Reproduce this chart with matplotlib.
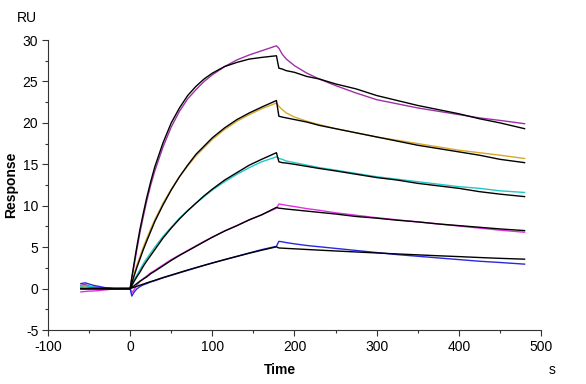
import matplotlib.pyplot as plt

# time points (s)
t_base = [-60, -55, -50, -45, -40, -30, -20, -10, 0]
t_assoc = [2, 5, 8, 12, 16, 20, 25, 30, 40, 50, 60, 70, 80, 90, 100, 115, 130, 145, 160, 178]
t_dissoc = [181, 185, 190, 200, 215, 230, 250, 275, 300, 325, 350, 375, 400, 425, 450, 480]

# measured curves (RU)
purple_base = [0.4, 0.5, 0.3, 0.2, 0.15, 0.05, 0.0, 0.0, 0.0]
purple_assoc = [1.2, 2.9, 4.6, 6.8, 8.7, 10.5, 12.5, 14.2, 17.1, 19.5, 21.4, 22.9, 24.0, 25.0,
                25.8, 26.8, 27.6, 28.2, 28.7, 29.3]
purple_dissoc = [29.0, 28.3, 27.7, 26.9, 26.0, 25.3, 24.5, 23.6, 22.8, 22.3, 21.8, 21.4, 21.0,
                 20.6, 20.3, 19.9]

gold_base = [0.2, 0.3, 0.2, 0.1, 0.1, 0.05, 0.0, 0.0, 0.0]
gold_assoc = [0.8, 1.8, 2.8, 3.9, 5.0, 6.0, 7.2, 8.3, 10.3, 12.0, 13.5, 14.8, 16.0, 17.0,
              18.0, 19.2, 20.2, 21.0, 21.7, 22.4]
gold_dissoc = [22.0, 21.6, 21.2, 20.7, 20.2, 19.8, 19.3, 18.8, 18.3, 17.9, 17.5, 17.1, 16.7,
               16.4, 16.1, 15.7]

cyan_base = [0.3, 0.35, 0.25, 0.2, 0.1, 0.05, 0.0, 0.0, 0.0]
cyan_assoc = [0.45, 1.1, 1.6, 2.3, 3.0, 3.6, 4.3, 5.0, 6.3, 7.4, 8.5, 9.4, 10.3, 11.1,
              11.9, 12.9, 13.8, 14.6, 15.3, 15.9]
cyan_dissoc = [15.7, 15.6, 15.4, 15.2, 14.9, 14.6, 14.3, 13.9, 13.5, 13.2, 12.9, 12.6, 12.3,
               12.1, 11.8, 11.6]

magenta_base = [-0.4, -0.35, -0.3, -0.3, -0.25, -0.15, -0.05, 0.0, 0.0]
magenta_assoc = [-0.5, -0.1, 0.4, 0.85, 1.2, 1.5, 1.9, 2.2, 2.85, 3.5, 4.05, 4.6, 5.15, 5.7,
                 6.2, 6.95, 7.6, 8.3, 8.9, 9.7]
magenta_dissoc = [10.2, 10.15, 10.05, 9.9, 9.65, 9.45, 9.15, 8.85, 8.55, 8.3, 8.05, 7.8, 7.55,
                  7.3, 7.05, 6.8]

blue_base = [0.6, 0.7, 0.55, 0.4, 0.3, 0.1, 0.0, 0.0, 0.0]
blue_assoc = [-0.9, -0.4, -0.05, 0.25, 0.45, 0.6, 0.8, 0.95, 1.3, 1.6, 1.9, 2.2, 2.5, 2.8,
              3.1, 3.5, 3.9, 4.3, 4.7, 5.1]
blue_dissoc = [5.7, 5.65, 5.55, 5.4, 5.2, 5.05, 4.85, 4.6, 4.35, 4.1, 3.9, 3.7, 3.5, 3.3,
               3.15, 2.95]

# fitted curves (RU)
fit_base = [0.0, 0.0, 0.0, 0.0, 0.0, 0.0, 0.0, 0.0, 0.0]
fit1_assoc = [1.35, 3.2, 5.0, 7.2, 9.1, 10.9, 12.9, 14.7, 17.6, 20.0, 21.8, 23.3, 24.4, 25.3,
              26.0, 26.8, 27.3, 27.7, 27.9, 28.1]
fit1_dissoc = [26.6, 26.5, 26.3, 26.1, 25.6, 25.3, 24.7, 24.1, 23.3, 22.7, 22.1, 21.6, 21.1,
               20.5, 20.0, 19.3]
fit2_assoc = [0.65, 1.6, 2.5, 3.6, 4.7, 5.7, 6.9, 8.1, 10.1, 11.9, 13.5, 14.9, 16.2, 17.2,
              18.2, 19.4, 20.4, 21.2, 21.9, 22.7]
fit2_dissoc = [20.8, 20.7, 20.6, 20.4, 20.1, 19.7, 19.3, 18.8, 18.3, 17.8, 17.3, 16.9, 16.5,
               16.1, 15.6, 15.2]
fit3_assoc = [0.35, 0.9, 1.4, 2.0, 2.7, 3.3, 4.0, 4.7, 6.1, 7.3, 8.4, 9.4, 10.3, 11.2,
              12.0, 13.1, 14.0, 14.9, 15.6, 16.4]
fit3_dissoc = [15.3, 15.2, 15.15, 15.0, 14.75, 14.5, 14.2, 13.8, 13.4, 13.1, 12.7, 12.4, 12.1,
               11.7, 11.4, 11.1]
fit4_assoc = [0.15, 0.35, 0.6, 0.9, 1.15, 1.4, 1.8, 2.1, 2.75, 3.4, 4.0, 4.55, 5.1, 5.65,
              6.2, 6.95, 7.6, 8.3, 8.9, 9.8]
fit4_dissoc = [9.7, 9.66, 9.6, 9.5, 9.35, 9.2, 9.0, 8.7, 8.5, 8.25, 8.05, 7.8, 7.6, 7.4,
               7.2, 7.0]
fit5_assoc = [0.07, 0.17, 0.27, 0.41, 0.54, 0.68, 0.84, 1.0, 1.33, 1.63, 1.94, 2.24, 2.53,
              2.81, 3.08, 3.49, 3.88, 4.27, 4.63, 5.04]
fit5_dissoc = [4.9, 4.88, 4.85, 4.8, 4.72, 4.64, 4.54, 4.42, 4.3, 4.18, 4.07, 3.96, 3.86,
               3.75, 3.65, 3.55]

measured = [
    (purple_base, purple_assoc, purple_dissoc, '#a030a8'),
    (gold_base, gold_assoc, gold_dissoc, '#d8a828'),
    (cyan_base, cyan_assoc, cyan_dissoc, '#20c8c8'),
    (magenta_base, magenta_assoc, magenta_dissoc, '#e030e0'),
    (blue_base, blue_assoc, blue_dissoc, '#2828e0'),
]
fits = [
    (fit1_assoc, fit1_dissoc),
    (fit2_assoc, fit2_dissoc),
    (fit3_assoc, fit3_dissoc),
    (fit4_assoc, fit4_dissoc),
    (fit5_assoc, fit5_dissoc),
]

plt.rcParams['font.family'] = ['Liberation Sans', 'DejaVu Sans']
plt.rcParams['axes.unicode_minus'] = False

fig = plt.figure(figsize=(5.86, 3.84), dpi=100)
ax = fig.add_axes([0.0819, 0.1406, 0.8413, 0.7552])

t_all = t_base + t_assoc + t_dissoc
for base, assoc, dissoc, color in measured:
    ax.plot(t_all, base + assoc + dissoc, color=color, lw=1.0)
for assoc, dissoc in fits:
    ax.plot(t_all, fit_base + assoc + dissoc, color='black', lw=1.0)

ax.set_xlim(-100, 500)
ax.set_ylim(-5, 30)
ax.set_xticks([-100, 0, 100, 200, 300, 400, 500])
ax.set_xticks([-50, 50, 150, 250, 350, 450], minor=True)
ax.set_yticks([-5, 0, 5, 10, 15, 20, 25, 30])
ax.set_yticks([-2.5, 2.5, 7.5, 12.5, 17.5, 22.5, 27.5], minor=True)

for side in ['top', 'right']:
    ax.spines[side].set_visible(False)
for side in ['left', 'bottom']:
    ax.spines[side].set_color('#333333')
    ax.spines[side].set_linewidth(0.8)

ax.tick_params(which='major', length=4, width=0.8, color='#333333', labelsize=10, pad=3)
ax.tick_params(which='minor', length=2, width=0.8, color='#333333')

ax.set_ylabel('Response', fontsize=10, fontweight='bold', labelpad=3)
fig.text(280 / 586, 1 - 370 / 384, 'Time', fontsize=10, fontweight='bold', ha='center', va='center')
fig.text(552 / 586, 1 - 370 / 384, 's', fontsize=10, ha='center', va='center')
fig.text(27 / 586, 1 - 18 / 384, 'RU', fontsize=10, ha='center', va='center')

fig.savefig('out.png', dpi=100)
